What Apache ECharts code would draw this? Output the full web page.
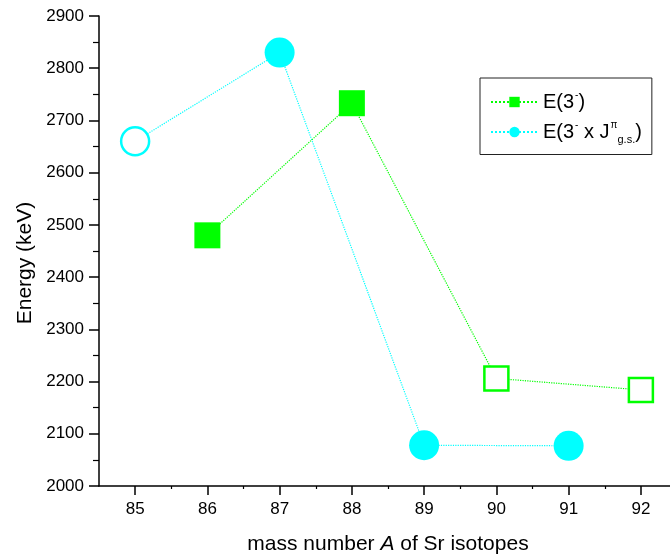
<!DOCTYPE html>
<html>
<head>
<meta charset="utf-8">
<script src="https://cdn.jsdelivr.net/npm/echarts@6/dist/echarts.min.js"></script>
<style>html,body{margin:0;padding:0;background:#fff}#c{width:670px;height:556px}</style>
</head>
<body>
<div id="c"></div>
<script>
// Data
const massNumbersOct = [86, 88, 90, 92];
const energyOct = [2480, 2733, 2206, 2184];
const hollowOct = [false, false, true, true];

const massNumbersMult = [85, 87, 89, 91];
const energyMult = [2660, 2830, 2078, 2077];
const hollowMult = [true, false, false, false];

const xTickLabels = [85, 86, 87, 88, 89, 90, 91, 92];
const xMinorTicks = [85.5, 86.5, 87.5, 88.5, 89.5, 90.5, 91.5];

const GREEN = '#00ff00';
const CYAN = '#00ffff';
const FONT = 'Liberation Sans, Arial, sans-serif';

function buildData(xs, ys, hollow, color, hollowSize) {
  return xs.map((x, i) => {
    const d = { value: [x, ys[i]] };
    if (hollow[i]) {
      d.itemStyle = { color: '#ffffff', borderColor: color, borderWidth: 2.5 };
      d.symbolSize = hollowSize;
    }
    return d;
  });
}

const chart = echarts.init(document.getElementById('c'));
const option = {
  backgroundColor: '#ffffff',
  animation: false,
  textStyle: { fontFamily: FONT },
  grid: { left: 99, top: 16, width: 578, height: 470, containLabel: false, outerBoundsMode: 'none' },
  legend: {
    left: 480, top: 78,
    orient: 'vertical',
    padding: [12, 10, 9, 10],
    itemGap: 8,
    itemWidth: 47, itemHeight: 13,
    borderColor: '#222', borderWidth: 1,
    backgroundColor: '#fff',
    textStyle: {
      fontFamily: FONT, fontSize: 20, color: '#000',
      rich: {
        n: { fontSize: 20, fontFamily: FONT, color: '#000', lineHeight: 22 },
        sup: { fontSize: 10, fontFamily: FONT, color: '#000', padding: [0, 0, 14, 1] },
        sub: { fontSize: 11, fontFamily: FONT, color: '#000', padding: [16, 0, 0, 0] }
      }
    },
    formatter: function (name) {
      if (name === 'oct') return '{n|E(3}{sup|-}{n|)}';
      return '{n|E(3}{sup|-}{n| x J}{sup|π}{sub|g.s.}{n|)}';
    },
    data: ['oct', 'mult']
  },
  xAxis: [{
    type: 'value', min: 84.5, max: 92.5,
    name: '{n|mass number }{i|A}{n| of Sr isotopes}',
    nameLocation: 'middle', nameGap: 48,
    nameTextStyle: {
      rich: {
        n: { fontSize: 21, fontFamily: FONT, color: '#000' },
        i: { fontSize: 21, fontFamily: FONT, color: '#000', fontStyle: 'italic' }
      }
    },
    splitLine: { show: false },
    axisLine: { show: true, lineStyle: { color: '#000', width: 1.5 } },
    axisTick: { show: true, length: 9, lineStyle: { color: '#000', width: 1.5 }, customValues: xTickLabels },
    axisLabel: { fontSize: 17, color: '#000', margin: 15, customValues: xTickLabels, fontFamily: FONT }
  }, {
    type: 'value', min: 84.5, max: 92.5, position: 'bottom',
    splitLine: { show: false },
    axisLine: { show: false },
    axisTick: { show: true, length: 3, lineStyle: { color: '#000', width: 1.2 }, customValues: xMinorTicks },
    axisLabel: { show: false }
  }],
  yAxis: {
    type: 'value', min: 2000, max: 2900, interval: 100,
    name: 'Energy (keV)', nameLocation: 'middle', nameGap: 62,
    nameTextStyle: { fontSize: 21, color: '#000', fontFamily: FONT, padding: [0, 0, 0, -24] },
    splitLine: { show: false },
    axisLine: { show: true, lineStyle: { color: '#000', width: 1.5 } },
    axisTick: { show: true, length: 10, lineStyle: { color: '#000', width: 1.5 } },
    minorTick: { show: true, splitNumber: 2, length: 6, lineStyle: { color: '#000', width: 1.2 } },
    axisLabel: { fontSize: 17, color: '#000', margin: 15, fontFamily: FONT,
      formatter: function (v) { return String(v); } }
  },
  series: [{
    name: 'oct', type: 'line',
    symbol: 'rect', symbolSize: 26,
    itemStyle: { color: GREEN },
    lineStyle: { color: GREEN, type: 'dotted', width: 1.2 },
    data: buildData(massNumbersOct, energyOct, hollowOct, GREEN, 24),
    z: 3
  }, {
    name: 'mult', type: 'line',
    symbol: 'circle', symbolSize: 30,
    itemStyle: { color: CYAN },
    lineStyle: { color: CYAN, type: 'dotted', width: 1.2 },
    data: buildData(massNumbersMult, energyMult, hollowMult, CYAN, 28),
    z: 2
  }]
};
chart.setOption(option);
</script>
</body>
</html>
